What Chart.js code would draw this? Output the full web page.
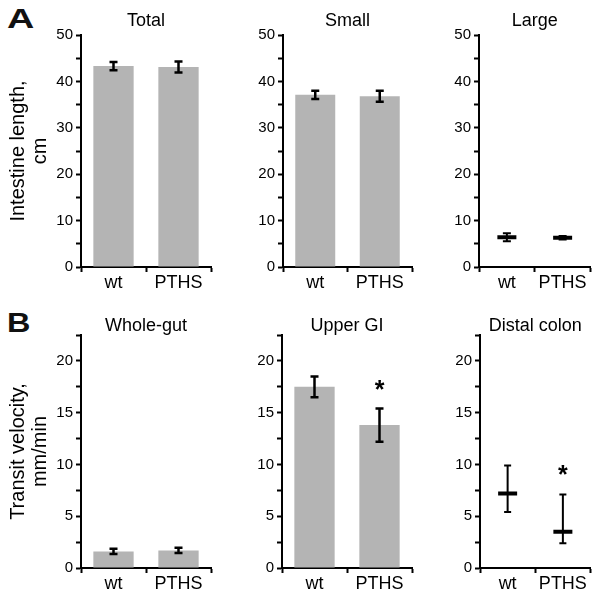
<!DOCTYPE html>
<html><head><meta charset="utf-8">
<script src="https://cdn.jsdelivr.net/npm/chart.js@4.4.0/dist/chart.umd.min.js"></script>
<style>
html,body{margin:0;padding:0;background:#fff;}
#wrap{position:relative;width:604px;height:601px;overflow:hidden;background:#fff;}
canvas{position:absolute;}
.lbl{position:absolute;font-family:"Liberation Sans",Arial,sans-serif;font-weight:bold;font-size:27px;line-height:27px;color:#111;transform-origin:left top;}
</style></head><body>
<div id="wrap">
<div class="lbl" style="left:7px;top:5.5px;transform:scaleX(1.4)">A</div>
<div class="lbl" style="left:7px;top:309.5px;transform:scaleX(1.2)">B</div>
<canvas id="c1" width="220" height="300" style="left:0;top:0"></canvas>
<canvas id="c2" width="200" height="300" style="left:220px;top:0"></canvas>
<canvas id="c3" width="184" height="300" style="left:420px;top:0"></canvas>
<canvas id="c4" width="220" height="301" style="left:0;top:300px"></canvas>
<canvas id="c5" width="200" height="301" style="left:220px;top:300px"></canvas>
<canvas id="c6" width="184" height="301" style="left:420px;top:300px"></canvas>
</div>
<script>
// ---- data ----
const groups = ['wt', 'PTHS'];
const panelTitles = ['Total', 'Small', 'Large', 'Whole-gut', 'Upper GI', 'Distal colon'];
const lengthAxisTitle = ['Intestine length,', 'cm'];
const transitAxisTitle = ['Transit velocity,', 'mm/min'];

const totalMean = [43.3, 43.1];
const totalErr = [0.9, 1.2];
const smallMean = [37.1, 36.8];
const smallErr = [0.9, 1.2];
const largeMean = [6.4, 6.3];
const largeErr = [0.85, 0.4];

const wholeGutMean = [1.6, 1.7];
const wholeGutErr = [0.25, 0.25];
const upperGIMean = [17.5, 13.8];
const upperGIErr = [1.0, 1.6];
const distalMean = [7.2, 3.5];
const distalLow = [5.4, 2.4];
const distalHigh = [9.9, 7.1];

const upperGISig = [false, true];
const distalSig = [false, true];

const lengthMax = 50, lengthStep = 5, lengthLabelStep = 10;
const transitMax = 22.5, transitStep = 2.5, transitLabelStep = 5;

// ---- helpers ----
const FAM = '"Liberation Sans", Arial, sans-serif';
const BAR = '#b4b4b4';

function errPlugin(low, high, sig, cap, lw) {
  return {
    id: 'errorBars',
    afterDatasetsDraw(chart) {
      const ctx = chart.ctx, y = chart.scales.y;
      const meta = chart.getDatasetMeta(0);
      meta.data.forEach((el, i) => {
        const x = el.x;
        const yh = y.getPixelForValue(high[i]);
        const yl = y.getPixelForValue(low[i]);
        ctx.save();
        ctx.strokeStyle = '#000';
        ctx.lineWidth = lw;
        ctx.lineCap = 'butt';
        ctx.beginPath();
        ctx.moveTo(x, yh); ctx.lineTo(x, yl);
        ctx.moveTo(x - cap / 2, yh); ctx.lineTo(x + cap / 2, yh);
        ctx.moveTo(x - cap / 2, yl); ctx.lineTo(x + cap / 2, yl);
        ctx.stroke();
        if (sig && sig[i]) {
          ctx.fillStyle = '#000';
          ctx.font = 'bold 25px ' + FAM;
          ctx.textAlign = 'center';
          ctx.textBaseline = 'alphabetic';
          const m = ctx.measureText('*');
          const cy = yh - 24;
          const off = (m.actualBoundingBoxAscent - m.actualBoundingBoxDescent) / 2;
          ctx.fillText('*', x, cy + off);
        }
        ctx.restore();
      });
    }
  };
}

function build(id, o) {
  const ds = o.bars
    ? { type: 'bar', data: o.mean, backgroundColor: BAR, barPercentage: 0.62, categoryPercentage: 1 }
    : { type: 'line', data: o.mean, showLine: false, pointStyle: 'line', pointRadius: 9.5, pointHoverRadius: 9.5,
        pointBorderWidth: 4, pointHoverBorderWidth: 4, borderColor: '#000', pointBorderColor: '#000', backgroundColor: '#000' };
  const tickGrid = { display: true, drawOnChartArea: false, drawTicks: true, tickLength: 5, tickWidth: 2, tickColor: '#000', color: '#000' };
  return new Chart(document.getElementById(id), {
    type: 'bar',
    data: { labels: groups, datasets: [ds] },
    options: {
      responsive: false, animation: false, devicePixelRatio: 1,
      layout: { padding: { left: 0, right: o.padR, top: 0, bottom: 0 } },
      plugins: {
        legend: { display: false }, tooltip: { enabled: false },
        title: { display: true, fullSize: false, text: o.title, color: '#000', font: { family: FAM, size: 18, weight: 'normal', lineHeight: 1 },
                 padding: { top: o.titleTop, bottom: 35 - o.titleTop - 18 } }
      },
      scales: {
        x: {
          offset: true,
          grid: Object.assign({ offset: true }, tickGrid),
          border: { display: true, color: '#000', width: 2 },
          ticks: { font: { family: FAM, size: 18 }, color: '#000', padding: 0, maxRotation: 0 },
          afterFit: (s) => { s.height = o.xH; }
        },
        y: {
          min: 0, max: o.max,
          grid: tickGrid,
          border: { display: true, color: '#000', width: 2 },
          ticks: { stepSize: o.step, font: { family: FAM, size: 15 }, color: '#000', padding: 3, autoSkip: false,
                   callback: (v) => (Math.abs(v % o.labelStep) < 1e-9 ? v : '') },
          title: o.yTitle ? { display: true, text: o.yTitle, color: '#000', font: { family: FAM, size: 20, lineHeight: 1.1 }, padding: { top: 7.5, bottom: 0 } } : { display: false },
          afterFit: (s) => { s.width = o.yW; }
        }
      }
    },
    plugins: [errPlugin(o.low, o.high, o.sig, o.cap, o.lw)]
  });
}

const lo = (m, e) => m.map((v, i) => v - e[i]);
const hi = (m, e) => m.map((v, i) => v + e[i]);

build('c1', { bars: true, mean: totalMean, low: lo(totalMean, totalErr), high: hi(totalMean, totalErr), title: panelTitles[0],
  yTitle: lengthAxisTitle, yW: 81, padR: 9, xH: 33, max: lengthMax, step: lengthStep, labelStep: lengthLabelStep, titleTop: 12, cap: 8, lw: 2.5 });
build('c2', { bars: true, mean: smallMean, low: lo(smallMean, smallErr), high: hi(smallMean, smallErr), title: panelTitles[1],
  yW: 63, padR: 8, xH: 33, max: lengthMax, step: lengthStep, labelStep: lengthLabelStep, titleTop: 12, cap: 8, lw: 2.5 });
build('c3', { bars: false, mean: largeMean, low: lo(largeMean, largeErr), high: hi(largeMean, largeErr), title: panelTitles[2],
  yW: 59, padR: 8, xH: 33, max: lengthMax, step: lengthStep, labelStep: lengthLabelStep, titleTop: 12, cap: 8, lw: 2 });
build('c4', { bars: true, mean: wholeGutMean, low: lo(wholeGutMean, wholeGutErr), high: hi(wholeGutMean, wholeGutErr), title: panelTitles[3],
  yTitle: transitAxisTitle, yW: 81, padR: 9, xH: 33, max: transitMax, step: transitStep, labelStep: transitLabelStep, titleTop: 17, cap: 8, lw: 2.5 });
build('c5', { bars: true, mean: upperGIMean, low: lo(upperGIMean, upperGIErr), high: hi(upperGIMean, upperGIErr), sig: upperGISig, title: panelTitles[4],
  yW: 62, padR: 8, xH: 33, max: transitMax, step: transitStep, labelStep: transitLabelStep, titleTop: 17, cap: 8, lw: 2.5 });
build('c6', { bars: false, mean: distalMean, low: distalLow, high: distalHigh, sig: distalSig, title: panelTitles[5],
  yW: 60, padR: 8, xH: 33, max: transitMax, step: transitStep, labelStep: transitLabelStep, titleTop: 17, cap: 7, lw: 2 });
</script>
</body></html>
